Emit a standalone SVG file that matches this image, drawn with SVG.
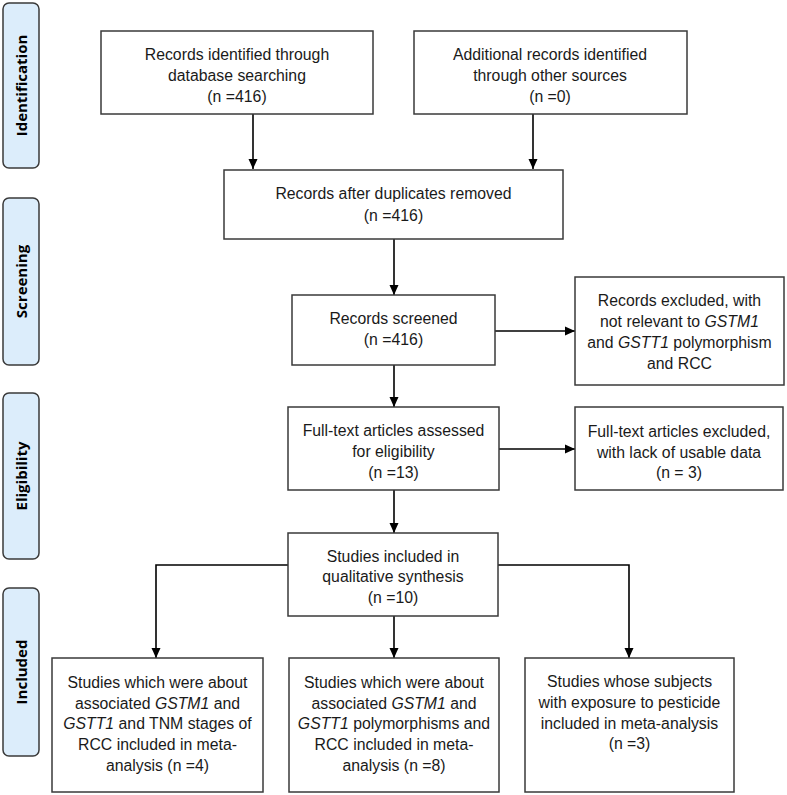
<svg xmlns="http://www.w3.org/2000/svg" width="787" height="795" viewBox="0 0 787 795">
<style>
.tag{fill:#dcedfb;stroke:#3a3a3a;stroke-width:1.5}
.tagt{font-family:"Open Sans","Liberation Sans",sans-serif;font-weight:bold;font-size:15px;fill:#000;text-anchor:middle}
.box{fill:#fff;stroke:#3a3a3a;stroke-width:1.5}
.t{font-family:"Liberation Sans",Arial,sans-serif;font-size:15.8px;fill:#1a1a1a;text-anchor:middle}
.c{fill:none;stroke:#000;stroke-width:1.6}
</style>
<defs>
<marker id="ah" markerUnits="userSpaceOnUse" markerWidth="10" markerHeight="10" refX="10" refY="5" orient="auto">
<path d="M0,0.5 L10,5 L0,9.5 z" fill="#000"/>
</marker>
</defs>
<rect width="787" height="795" fill="#fff"/>
<g id="phase-identification"><rect class="tag" x="3" y="3" width="36" height="165" rx="6"/><text class="tagt" transform="translate(26.5,85.5) rotate(-90)">Identification</text></g>
<g id="phase-screening"><rect class="tag" x="3" y="198" width="36" height="167" rx="6"/><text class="tagt" transform="translate(26.5,281.5) rotate(-90)">Screening</text></g>
<g id="phase-eligibility"><rect class="tag" x="3" y="393" width="36" height="166" rx="6"/><text class="tagt" transform="translate(26.5,476) rotate(-90)">Eligibility</text></g>
<g id="phase-included"><rect class="tag" x="3" y="588" width="36" height="168" rx="6"/><text class="tagt" transform="translate(26.5,672) rotate(-90)">Included</text></g>

<g id="connectors">
<path class="c" d="M253,114 V169" marker-end="url(#ah)"/>
<path class="c" d="M533,114 V169" marker-end="url(#ah)"/>
<path class="c" d="M394,239 V295" marker-end="url(#ah)"/>
<path class="c" d="M495,331 H575" marker-end="url(#ah)"/>
<path class="c" d="M394,365 V407" marker-end="url(#ah)"/>
<path class="c" d="M499,449 H575" marker-end="url(#ah)"/>
<path class="c" d="M394,490 V533" marker-end="url(#ah)"/>
<path class="c" d="M288,565 H156 V658" marker-end="url(#ah)"/>
<path class="c" d="M394,616 V658" marker-end="url(#ah)"/>
<path class="c" d="M498,565 H629 V658" marker-end="url(#ah)"/>
</g>

<g id="n-database"><rect class="box" x="101" y="31" width="272" height="83"/>
<text class="t" x="237" y="59.5">Records identified through</text>
<text class="t" x="237" y="80.5">database searching</text>
<text class="t" x="237" y="101.5">(n =416)</text></g>
<g id="n-other"><rect class="box" x="414" y="31" width="273" height="83"/>
<text class="t" x="550" y="59.5">Additional records identified</text>
<text class="t" x="550" y="80.5">through other sources</text>
<text class="t" x="550" y="101.5">(n =0)</text></g>
<g id="n-dedup"><rect class="box" x="224" y="170" width="339" height="69"/>
<text class="t" x="393.5" y="198.5">Records after duplicates removed</text>
<text class="t" x="393.5" y="220.5">(n =416)</text></g>
<g id="n-screened"><rect class="box" x="292" y="295" width="203" height="70"/>
<text class="t" x="393.5" y="323.5">Records screened</text>
<text class="t" x="393.5" y="344.5">(n =416)</text></g>
<g id="n-excluded1"><rect class="box" x="575" y="277" width="209" height="108"/>
<text class="t" x="679.5" y="305.5">Records excluded, with</text>
<text class="t" x="679.5" y="326.5">not relevant to <tspan font-style="italic">GSTM1</tspan></text>
<text class="t" x="679.5" y="347.5">and <tspan font-style="italic">GSTT1</tspan> polymorphism</text>
<text class="t" x="679.5" y="368.5">and RCC</text></g>
<g id="n-fulltext"><rect class="box" x="288" y="407" width="211" height="83"/>
<text class="t" x="393.5" y="435.5">Full-text articles assessed</text>
<text class="t" x="393.5" y="456.5">for eligibility</text>
<text class="t" x="393.5" y="477.5">(n =13)</text></g>
<g id="n-excluded2"><rect class="box" x="575" y="407" width="208" height="83"/>
<text class="t" x="679" y="436.5">Full-text articles excluded,</text>
<text class="t" x="679" y="457.5">with lack of usable data</text>
<text class="t" x="679" y="477.5">(n = 3)</text></g>
<g id="n-qualitative"><rect class="box" x="288" y="533" width="210" height="83"/>
<text class="t" x="393" y="561.5">Studies included in</text>
<text class="t" x="393" y="581.5">qualitative synthesis</text>
<text class="t" x="393" y="602.5">(n =10)</text></g>
<g id="n-tnm"><rect class="box" x="52" y="658" width="211" height="134"/>
<text class="t" x="157.5" y="687.5">Studies which were about</text>
<text class="t" x="157.5" y="708.5">associated <tspan font-style="italic">GSTM1</tspan> and</text>
<text class="t" x="157.5" y="728.5"><tspan font-style="italic">GSTT1</tspan> and TNM stages of</text>
<text class="t" x="157.5" y="749.5">RCC included in meta-</text>
<text class="t" x="157.5" y="770.5">analysis (n =4)</text></g>
<g id="n-rcc"><rect class="box" x="289" y="658" width="210" height="134"/>
<text class="t" x="394" y="687.5">Studies which were about</text>
<text class="t" x="394" y="708.5">associated <tspan font-style="italic">GSTM1</tspan> and</text>
<text class="t" x="394" y="728.5"><tspan font-style="italic">GSTT1</tspan> polymorphisms and</text>
<text class="t" x="394" y="749.5">RCC included in meta-</text>
<text class="t" x="394" y="770.5">analysis (n =8)</text></g>
<g id="n-pesticide"><rect class="box" x="525" y="658" width="209" height="134"/>
<text class="t" x="629.5" y="686.5">Studies whose subjects</text>
<text class="t" x="629.5" y="707.5">with exposure to pesticide</text>
<text class="t" x="629.5" y="728.5">included in meta-analysis</text>
<text class="t" x="629.5" y="748.5">(n =3)</text></g>
</svg>
